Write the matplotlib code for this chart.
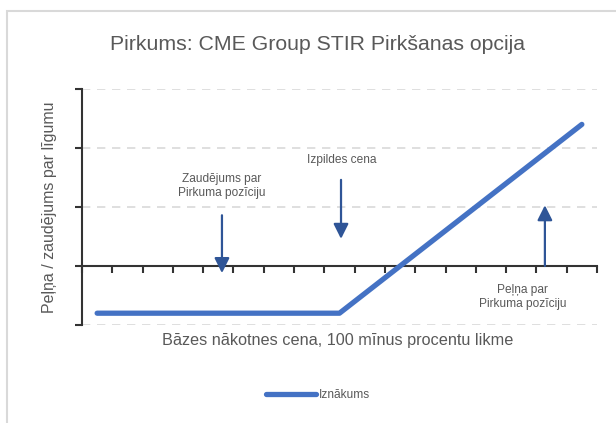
import matplotlib.pyplot as plt
from matplotlib.patches import Rectangle

plt.rcParams["font.family"] = ["Liberation Sans", "DejaVu Sans"]

# payoff line (price axis in tick units, profit/loss in grid units)
price = [0.5, 8.5, 16.5]
payoff = [-0.8, -0.8, 2.4]
x_ticks = list(range(0, 18))
y_ticks = [-1, 0, 1, 2, 3]

title = "Pirkums: CME Group STIR Pirkšanas opcija"
xlabel = "Bāzes nākotnes cena, 100 mīnus procentu likme"
ylabel = "Peļņa / zaudējums par līgumu"
series_name = "Iznākums"

LINE = "#4472C4"
ARROW = "#2F5597"
AX = "#333333"
TXT = "#595959"

fig = plt.figure(figsize=(6.16, 4.23), dpi=100)
fig.patches.append(Rectangle((7 / 616, -0.01), 1.0, 1 - 11 / 423 + 0.01,
                             transform=fig.transFigure, fill=False,
                             edgecolor="#D9D9D9", lw=1.5))
ax = fig.add_axes([82 / 616, 1 - 325 / 423, (597 - 82) / 616, (325 - 89) / 423])

line, = ax.plot(price, payoff, color=LINE, lw=3.8, solid_capstyle="round",
                solid_joinstyle="round", zorder=3, label=series_name)

ax.set_xlim(0, 17)
ax.set_ylim(-1, 3)
ax.set_xticks(x_ticks)
ax.set_yticks(y_ticks)
ax.set_xticklabels([])
ax.set_yticklabels([])
for y in y_ticks:
    if y != 0:
        ax.axhline(y, color="#D9D9D9", lw=1.2, ls=(0, (5, 4)), zorder=1)

ax.spines[["top", "right"]].set_visible(False)
ax.spines["bottom"].set_position(("data", 0))
for s in ("left", "bottom"):
    ax.spines[s].set_color(AX)
    ax.spines[s].set_linewidth(1.5)
ax.tick_params(axis="both", direction="out", length=5, width=1.5, color=AX)

arrow = dict(arrowstyle="-|>,head_length=0.9,head_width=0.45",
             color=ARROW, lw=1.6, shrinkA=0, shrinkB=0)

# annotations
ax.text(4.62, 1.35, "Zaudējums par\nPirkuma pozīciju", ha="center", va="center",
        fontsize=8.6, color=TXT, linespacing=1.25)
ax.annotate("", xy=(4.62, -0.12), xytext=(4.62, 0.86), arrowprops=arrow)
ax.text(8.58, 1.80, "Izpildes cena", ha="center", va="center",
        fontsize=8.6, color=TXT)
ax.annotate("", xy=(8.55, 0.46), xytext=(8.55, 1.46), arrowprops=arrow)
ax.text(14.55, -0.52, "Peļņa par\nPirkuma pozīciju", ha="center", va="center",
        fontsize=8.6, color=TXT, linespacing=1.25)
ax.annotate("", xy=(15.28, 1.03), xytext=(15.28, 0.0), arrowprops=arrow)

fig.text(317 / 616, 1 - 45 / 423, title, ha="center", va="center",
         fontsize=15.3, color=TXT)
fig.text(338 / 616, 1 - 340 / 423, xlabel, ha="center", va="center",
         fontsize=11.7, color=TXT)
fig.text(50 / 616, 1 - 207 / 423, ylabel, ha="center", va="center",
         rotation=90, fontsize=11.5, color=TXT)

fig.legend(handles=[line], loc="center", bbox_to_anchor=(318 / 616, 1 - 395 / 423),
           frameon=False, fontsize=8.6, handlelength=4.2, handletextpad=0.3,
           labelcolor=TXT)

fig.savefig("out.png", dpi=100)
